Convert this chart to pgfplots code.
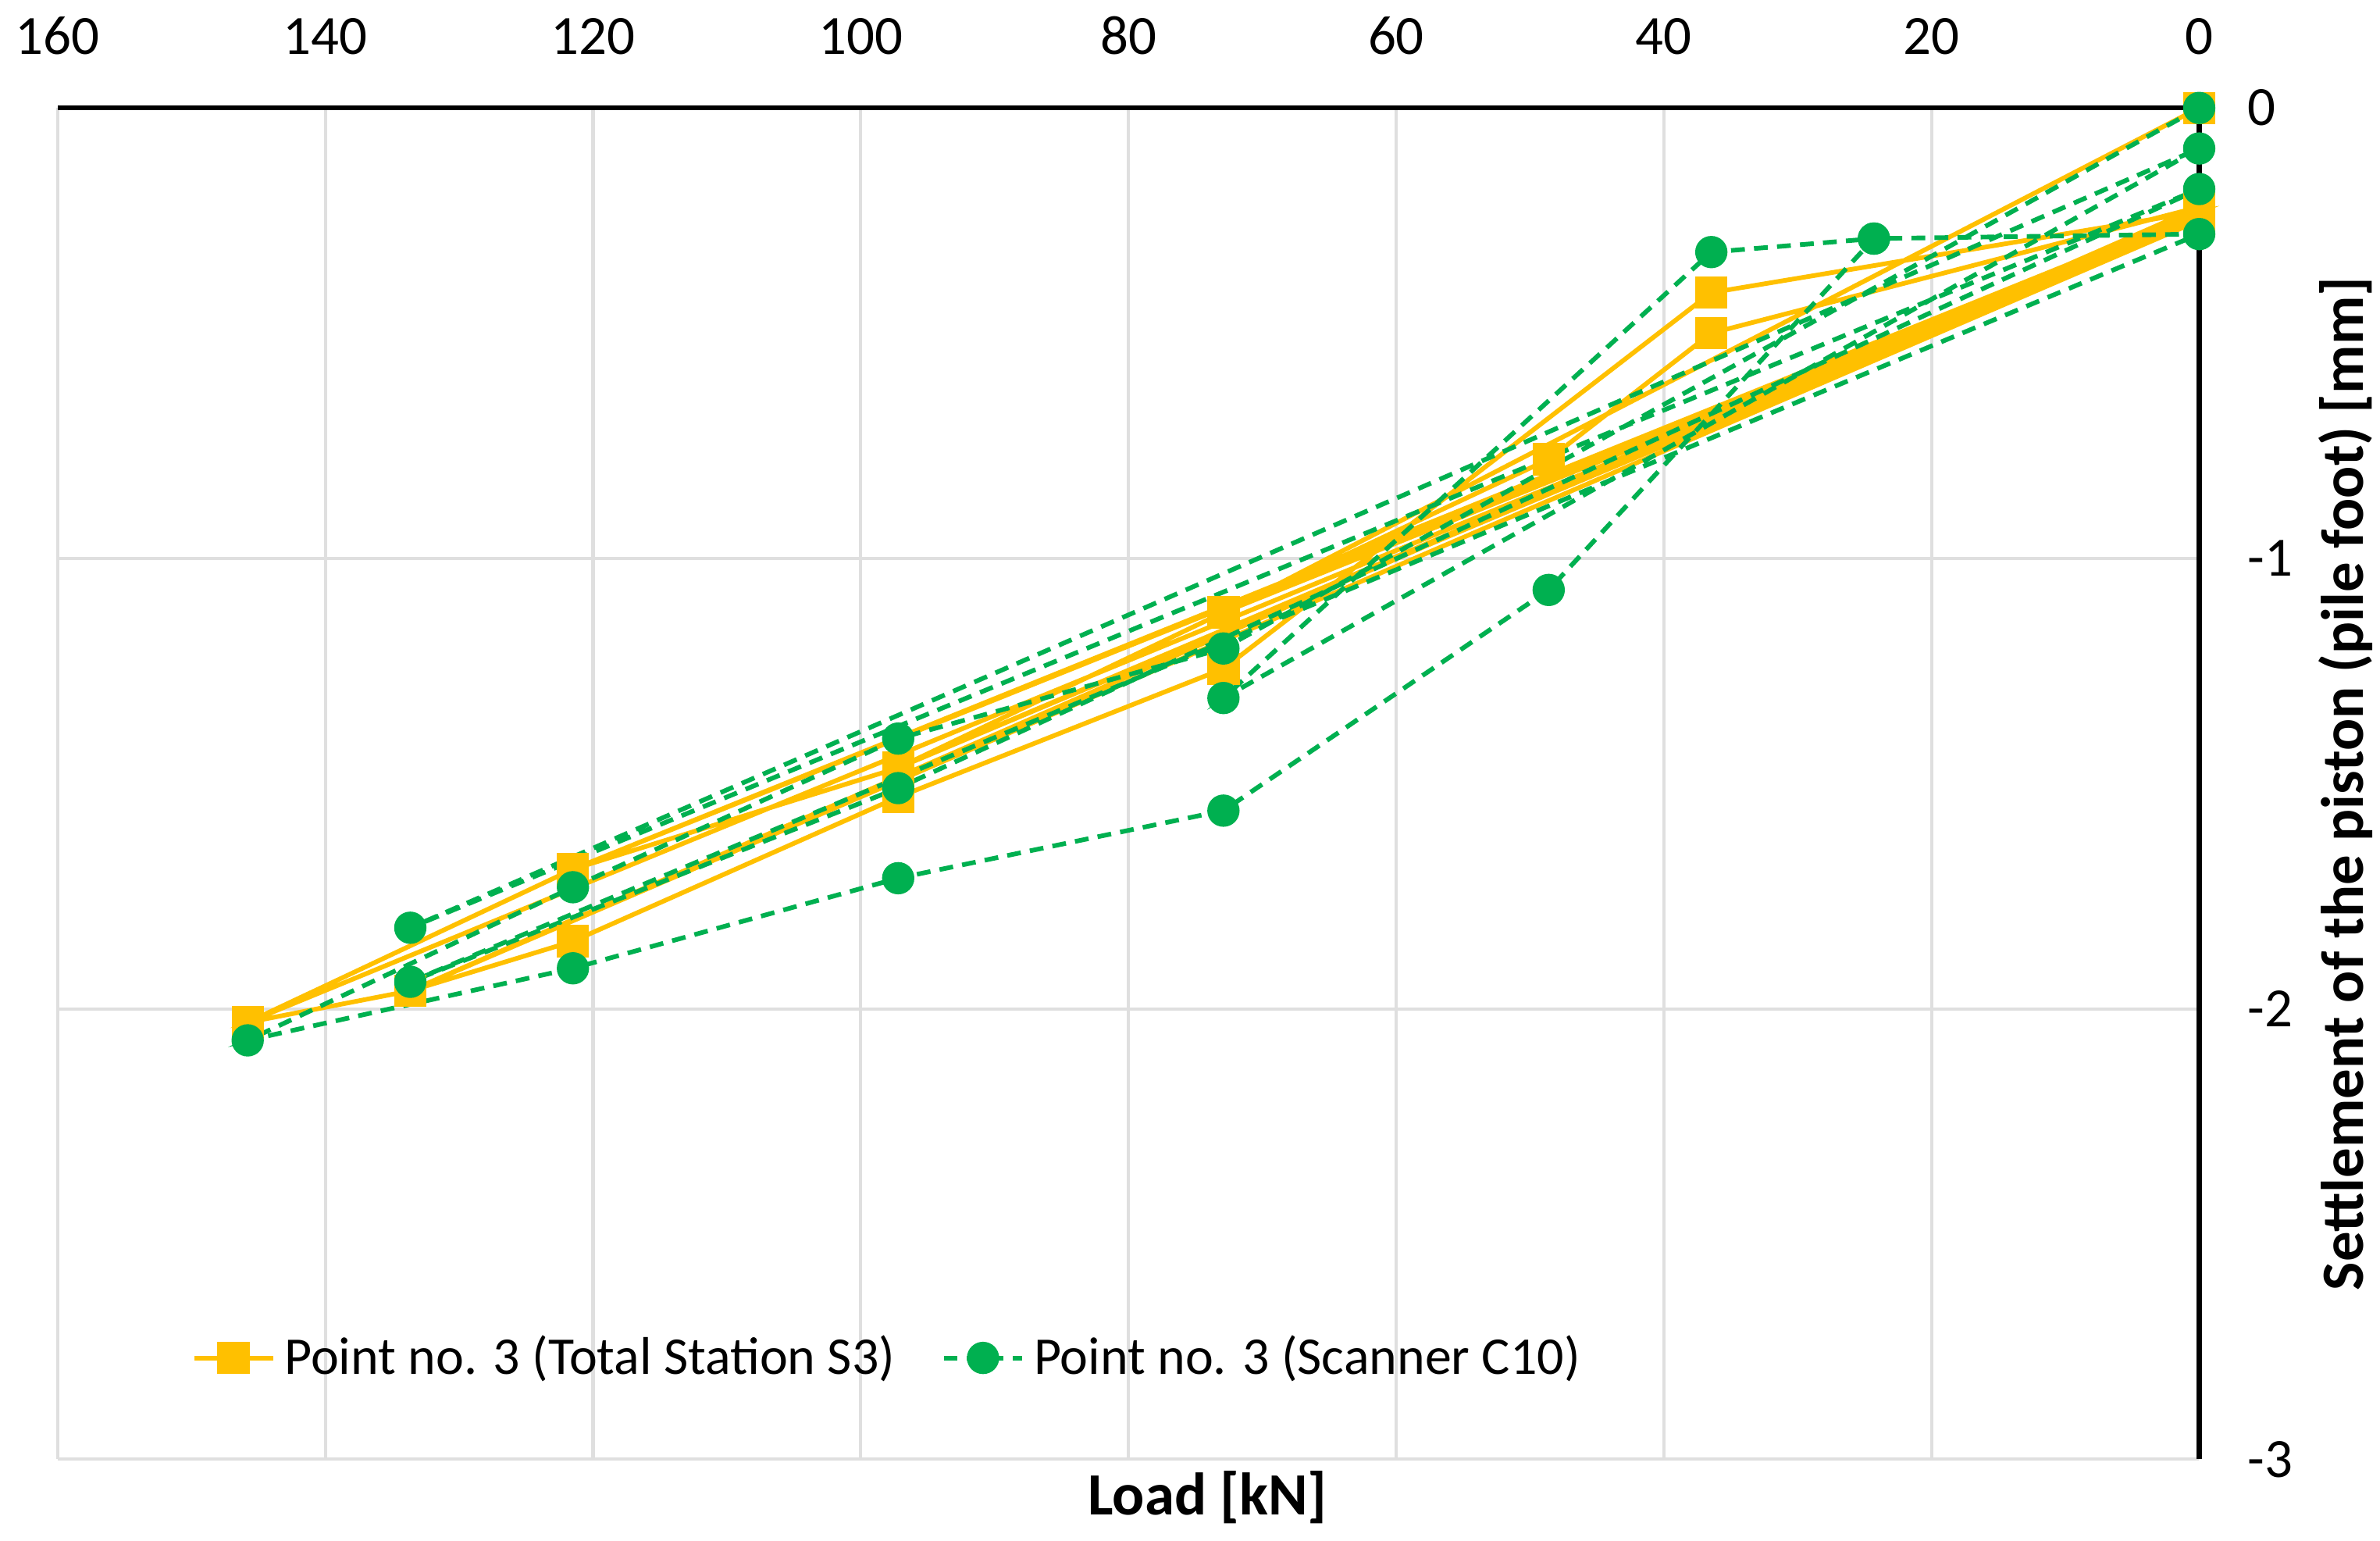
\documentclass[border=0pt]{standalone}
\usepackage{fontspec}
\setmainfont{Carlito}
\usepackage{pgfplots}
\pgfplotsset{compat=1.18}
\definecolor{ygold}{HTML}{FFC000}
\definecolor{sgreen}{HTML}{00B050}
\begin{document}
\begin{tikzpicture}
\begin{axis}[
  width=464.3pt, height=292.9pt, scale only axis,
  x dir=reverse,
  xmin=0, xmax=160, ymin=-3, ymax=0,
  xtick={0,20,...,160}, ytick={0,-1,-2,-3},
  axis x line*=top, axis y line*=right,
  axis line style={black, line width=1.1pt, -},
  grid=major, grid style={gray!25, line width=0.7pt},
  major tick length=0pt,
  tick label style={font=\fontsize{12}{14}\selectfont},
  /pgf/number format/assume math mode=true,
  xticklabel style={yshift=8pt},
  yticklabel style={anchor=west, xshift=7pt},
  xlabel={Load [kN]},
  xlabel style={at={([yshift=-8.3pt]axis description cs:0.537,0)}, anchor=center, font=\fontsize{13}{15}\selectfont\bfseries},
  ylabel={Settlement of the piston (pile foot) [mm]},
  ylabel style={at={([xshift=31.7pt]axis description cs:1,0.5)}, anchor=center, font=\fontsize{13}{15}\selectfont\bfseries},
  clip=false,
  legend columns=2,
  legend style={at={(axis description cs:0.389,0.075)}, anchor=center, draw=none, fill=none,
    font=\fontsize{11.5}{13}\selectfont,
    /tikz/every even column/.append style={column sep=8pt}},
]
\addplot[color=ygold, line width=1pt, mark=square*, mark size=3pt, mark options={solid, fill=ygold, draw=ygold}] coordinates {
(0,0) (72.9,-1.12) (97.2,-1.465) (121.5,-1.69) (145.8,-2.03) (133.65,-1.96) (121.5,-1.85) (97.2,-1.53)
(72.9,-1.245) (36.45,-0.41) (0,-0.23) (121.5,-1.69) (0,-0.24) (97.2,-1.465) (0,-0.25) (72.9,-1.12)
(48.6,-0.78) (36.45,-0.50) (0,-0.22) (133.65,-1.96) (0,-0.25) (145.8,-2.03)
};
\addlegendentry{Point no. 3 (Total Station S3)}
\addplot[color=sgreen, line width=1pt, dash pattern=on 3pt off 2pt, mark=*, mark size=3pt, mark options={solid, fill=sgreen, draw=sgreen}] coordinates {
(0,0) (72.9,-1.20) (97.2,-1.40) (121.5,-1.73) (145.8,-2.07) (121.5,-1.91) (97.2,-1.71) (72.9,-1.56)
(48.6,-1.07) (24.3,-0.29) (0,-0.28) (133.65,-1.94) (97.2,-1.51) (0,-0.18) (133.65,-1.82) (0,-0.09)
(72.9,-1.31) (36.45,-0.32) (24.3,-0.29)
};
\addlegendentry{Point no. 3 (Scanner C10)}
\coordinate (bl) at (axis description cs:0,0);
\coordinate (tr) at (axis description cs:1,1);
\end{axis}
\pgfresetboundingbox
\path[use as bounding box] ([shift={(-12.5pt,-17.7pt)}]bl) rectangle ([shift={(39.2pt,23.4pt)}]tr);
\end{tikzpicture}
\end{document}
